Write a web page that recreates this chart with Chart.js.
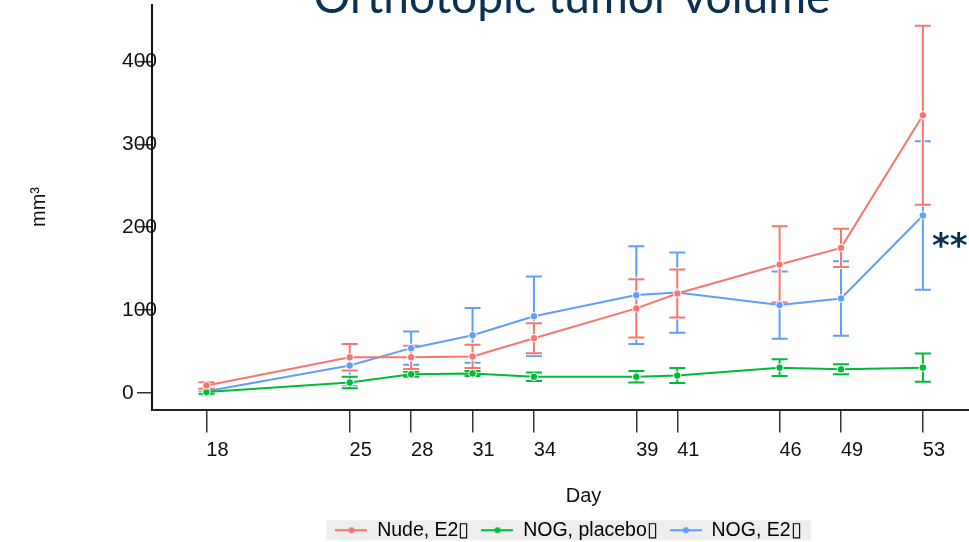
<!DOCTYPE html>
<html>
<head>
<meta charset="utf-8">
<script src="https://cdn.jsdelivr.net/npm/chart.js"></script>
<style>
  html, body { margin: 0; padding: 0; background: #fff; overflow: hidden; }
  #wrap { width: 1020px; height: 550px; }
</style>
</head>
<body>
<div id="wrap"><canvas id="myChart"></canvas></div>
<script>
// days of measurement
var days = [18, 25, 28, 31, 34, 39, 41, 46, 49, 53];
var seriesNames = ['Nude, E2\u25AF', 'NOG, placebo\u25AF', 'NOG, E2\u25AF'];
var seriesColors = ['#F8766D', '#00BA38', '#619CFF'];

// mean tumor volume (mm3) and error
var nudeE2 = [9, 43, 43, 44, 66, 102, 120, 155, 175, 335];
var nudeE2Err = [4, 16, 14, 14, 18, 35, 29, 46, 23, 108];
var nogPlacebo = [1, 12.5, 22.5, 23.5, 19.5, 19.5, 21, 30.5, 28.5, 30.5];
var nogPlaceboErr = [2, 7, 3, 3, 5, 7, 9, 10, 6, 17];
var nogE2 = [2, 33, 54, 69.5, 92.5, 118, 121, 106, 114, 214];
var nogE2Err = [4, 25, 20, 33, 48, 59, 48.5, 40.5, 45, 89.5];

var yTicks = [0, 100, 200, 300, 400];

var means = [nudeE2, nogPlacebo, nogE2];
var errs = [nudeE2Err, nogPlaceboErr, nogE2Err];

function toPoints(vals) {
  return vals.map(function (v, i) { return { x: days[i], y: v }; });
}

// little line+dot icon for legend
function makeIcon(color) {
  var c = document.createElement('canvas');
  c.width = 32; c.height = 10;
  var g = c.getContext('2d');
  g.strokeStyle = color; g.lineWidth = 2;
  g.beginPath(); g.moveTo(0, 5); g.lineTo(32, 5); g.stroke();
  g.fillStyle = color;
  g.beginPath(); g.arc(16, 5, 3, 0, Math.PI * 2); g.fill();
  return c;
}

var errorBars = {
  id: 'errorBars',
  beforeDatasetsDraw: function (chart) {
    var ctx = chart.ctx, xs = chart.scales.x, ys = chart.scales.y;
    ctx.save();
    for (var d = means.length - 1; d >= 0; d--) {
      for (var i = 0; i < days.length; i++) {
        var px = xs.getPixelForValue(days[i]);
        var top = ys.getPixelForValue(means[d][i] + errs[d][i]);
        var bot = ys.getPixelForValue(means[d][i] - errs[d][i]);
        var passes = [['#ffffff', 4], [seriesColors[d], 2]];
        passes.forEach(function (p) {
          ctx.strokeStyle = p[0];
          ctx.lineWidth = p[1];
          ctx.beginPath();
          ctx.moveTo(px, top); ctx.lineTo(px, bot);
          ctx.moveTo(px - 8, top); ctx.lineTo(px + 8, top);
          ctx.moveTo(px - 8, bot); ctx.lineTo(px + 8, bot);
          ctx.stroke();
        });
      }
    }
    ctx.restore();
  }
};

var extras = {
  id: 'extras',
  beforeDraw: function (chart) {
    // grey legend background
    var boxes = chart.legend.legendHitBoxes;
    if (!boxes || !boxes.length) return;
    var first = boxes[0], last = boxes[boxes.length - 1];
    var ctx = chart.ctx;
    ctx.save();
    ctx.fillStyle = '#eeeeee';
    var cy = first.top + first.height / 2;
    ctx.fillRect(first.left - 9, cy - 10, last.left + last.width - first.left + 18, 20);
    ctx.restore();
  },
  afterDraw: function (chart) {
    var ctx = chart.ctx;
    ctx.save();
    // title, cut off at the top
    ctx.fillStyle = '#0b3152';
    ctx.textAlign = 'center';
    ctx.textBaseline = 'alphabetic';
    ctx.font = '40px Lato';
    var w = ctx.measureText('Orthotopic tumor volume').width;
    var fs = 40 * 517 / w;
    ctx.font = fs + 'px Lato';
    ctx.fillText('Orthotopic tumor volume', 572, 12.5);
    // significance mark
    ctx.font = 'bold 34px "DejaVu Sans"';
    ctx.textAlign = 'left';
    ctx.fillText('**', 932, 257);
    // y axis title
    ctx.fillStyle = '#111';
    ctx.font = '20px "Liberation Sans"';
    ctx.translate(45, 207);
    ctx.rotate(-Math.PI / 2);
    ctx.textAlign = 'center';
    ctx.fillText('mm\u00B3', 0, 0);
    ctx.restore();
  }
};

var datasets = means.map(function (vals, i) {
  return {
    label: seriesNames[i],
    data: toPoints(vals),
    borderColor: seriesColors[i],
    backgroundColor: seriesColors[i],
    pointBackgroundColor: seriesColors[i],
    pointBorderColor: '#ffffff',
    pointBorderWidth: 1,
    pointRadius: 3.8,
    borderWidth: 2,
    tension: 0
  };
});

new Chart('myChart', {
  type: 'line',
  data: { datasets: datasets },
  plugins: [errorBars, extras],
  options: {
    responsive: true,
    maintainAspectRatio: false,
    animation: false,
    layout: { padding: { left: 122, right: 5, top: 5, bottom: 0 } },
    plugins: {
      title: { display: false },
      tooltip: { enabled: false },
      legend: {
        position: 'bottom',
        labels: {
          usePointStyle: true,
          pointStyleWidth: 32,
          padding: 12,
          color: '#111',
          font: { size: 19.5, family: 'Liberation Sans' },
          generateLabels: function (chart) {
            return chart.data.datasets.map(function (ds, i) {
              return {
                text: ds.label,
                pointStyle: makeIcon(ds.borderColor),
                fillStyle: ds.borderColor,
                strokeStyle: ds.borderColor,
                lineWidth: 0,
                hidden: false,
                datasetIndex: i
              };
            });
          }
        }
      }
    },
    scales: {
      x: {
        type: 'linear',
        min: 15.34,
        max: 57.5,
        afterBuildTicks: function (scale) {
          scale.ticks = days.map(function (d) { return { value: d }; });
        },
        grid: { drawOnChartArea: false, tickLength: 23, color: '#333', lineWidth: 1.5 },
        border: { display: true, color: '#222', width: 2 },
        ticks: {
          autoSkip: false, maxRotation: 0, labelOffset: 11, padding: 6,
          color: '#111', font: { size: 20, family: 'Liberation Sans' }
        },
        title: {
          display: true, text: 'Day', color: '#111',
          font: { size: 20, family: 'Liberation Sans' },
          padding: { top: 16, bottom: 0 }
        }
      },
      y: {
        type: 'linear',
        min: -20,
        max: 468,
        afterBuildTicks: function (scale) {
          scale.ticks = yTicks.map(function (v) { return { value: v }; });
        },
        afterFit: function (scale) {
          scale.width = 30;
          scale.paddingTop = 0;
          scale.paddingBottom = 0;
        },
        grid: { drawOnChartArea: false, tickLength: 15, color: '#333', lineWidth: 1.5 },
        border: { display: true, color: '#111', width: 2 },
        ticks: {
          mirror: true, padding: -30,
          color: '#111', font: { size: 21, family: 'Liberation Sans' }
        }
      }
    }
  }
});
</script>
</body>
</html>
